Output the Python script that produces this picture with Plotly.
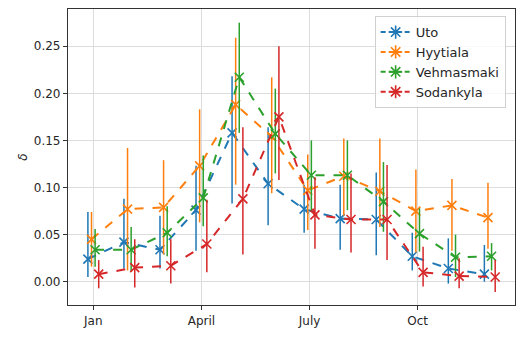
import plotly.graph_objects as go

months = [1, 2, 3, 4, 5, 6, 7, 8, 9, 10, 11, 12]
tick_vals = [1, 4, 7, 10]
tick_text = ["Jan", "April", "July", "Oct"]
y_ticks = [0.0, 0.05, 0.10, 0.15, 0.20, 0.25]

names = ["Uto", "Hyytiala", "Vehmasmaki", "Sodankyla"]
colors = ["#1f77b4", "#ff7f0e", "#2ca02c", "#d62728"]
offsets = [-0.15, -0.05, 0.05, 0.15]

uto = [0.024, 0.042, 0.034, 0.076, 0.158, 0.104, 0.077, 0.067, 0.066, 0.027, 0.014, 0.008]
uto_hi = [0.074, 0.088, 0.070, 0.123, 0.218, 0.164, 0.103, 0.103, 0.116, 0.052, 0.046, 0.039]
uto_lo = [0.005, 0.014, 0.014, 0.033, 0.083, 0.060, 0.052, 0.034, 0.028, 0.012, -0.002, 0.000]

hyy = [0.045, 0.077, 0.079, 0.123, 0.188, 0.154, 0.097, 0.112, 0.096, 0.075, 0.081, 0.068]
hyy_hi = [0.074, 0.142, 0.129, 0.183, 0.259, 0.217, 0.135, 0.152, 0.152, 0.119, 0.109, 0.105]
hyy_lo = [0.016, 0.012, 0.029, 0.063, 0.103, 0.094, 0.055, 0.070, 0.058, 0.031, 0.033, 0.035]

veh = [0.034, 0.034, 0.052, 0.089, 0.217, 0.157, 0.113, 0.113, 0.085, 0.051, 0.026, 0.027]
veh_hi = [0.056, 0.058, 0.080, 0.134, 0.275, 0.205, 0.150, 0.150, 0.127, 0.078, 0.050, 0.041]
veh_lo = [0.016, 0.011, 0.027, 0.059, 0.158, 0.115, 0.074, 0.076, 0.053, 0.032, 0.005, 0.012]

sod = [0.008, 0.015, 0.017, 0.040, 0.088, 0.175, 0.071, 0.066, 0.066, 0.010, 0.006, 0.005]
sod_hi = [0.023, 0.045, 0.045, 0.087, 0.164, 0.250, 0.111, 0.115, 0.124, 0.037, 0.025, 0.023]
sod_lo = [-0.007, -0.006, -0.002, 0.010, 0.029, 0.108, 0.035, 0.031, 0.023, -0.005, -0.007, -0.011]

series = [(uto, uto_hi, uto_lo), (hyy, hyy_hi, hyy_lo), (veh, veh_hi, veh_lo), (sod, sod_hi, sod_lo)]

fig = go.Figure()
for name, color, off, (v, hi, lo) in zip(names, colors, offsets, series):
    x = [m + off for m in months]
    fig.add_trace(go.Scatter(
        x=x, y=v, mode="lines+markers", name=name, showlegend=False,
        line=dict(color=color, width=2, dash="dash"),
        marker=dict(symbol="x-thin-open", size=9, color=color, line=dict(color=color, width=1.6)),
        error_y=dict(type="data", symmetric=False,
                     array=[h - c for h, c in zip(hi, v)],
                     arrayminus=[c - l for c, l in zip(v, lo)],
                     color=color, thickness=1.5, width=0),
    ))
# legend entries (errorbar + x marker appear as an asterisk)
for name, color in zip(names, colors):
    fig.add_trace(go.Scatter(
        x=[None], y=[None], mode="lines+markers", name=name,
        line=dict(color=color, width=2, dash="5px,3px"),
        marker=dict(symbol="asterisk-open", size=11, color=color, line=dict(color=color, width=1.6)),
    ))

axis_common = dict(
    showline=True, linecolor="#333333", linewidth=1.2, mirror=True,
    showgrid=True, gridcolor="#dcdcdc", gridwidth=1,
    ticks="outside", ticklen=4, tickcolor="#333333", tickwidth=1,
    zeroline=False,
    tickfont=dict(family="DejaVu Sans", size=12, color="#262626"),
)
fig.update_xaxes(range=[0.298, 12.70], tickvals=tick_vals, ticktext=tick_text, **axis_common)
fig.update_yaxes(range=[-0.0247, 0.2895], tickvals=y_ticks, tickformat=".2f",
                 title=dict(text="<i>δ</i>", font=dict(family="DejaVu Sans", size=12, color="#262626"), standoff=3),
                 **axis_common)

fig.update_layout(
    width=524, height=337,
    margin=dict(l=68, r=9, t=9, b=32),
    paper_bgcolor="white", plot_bgcolor="white",
    legend=dict(x=0.686, y=0.976, xanchor="left", yanchor="top",
                bgcolor="rgba(255,255,255,0.8)", bordercolor="#d0d0d0", borderwidth=1,
                font=dict(family="DejaVu Sans", size=13, color="#262626"),
                tracegroupgap=0, itemwidth=30),
)

fig.write_html("out.html")
